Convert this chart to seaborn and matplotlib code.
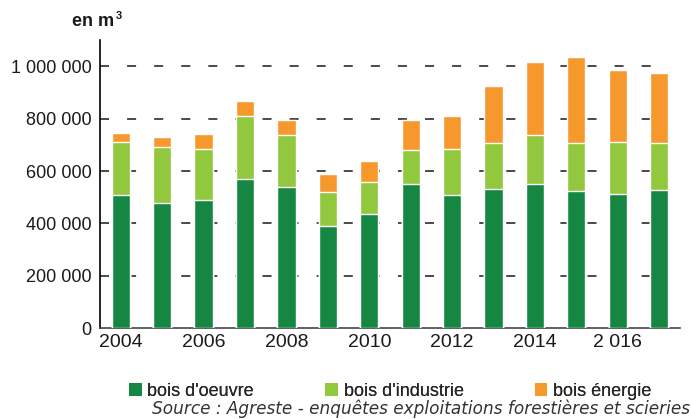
import numpy as np
import pandas as pd
import matplotlib
matplotlib.use("Agg")
import matplotlib.pyplot as plt
from matplotlib.ticker import FuncFormatter, FixedLocator
from matplotlib.patches import Patch
import seaborn as sns

# ---------------------------------------------------------------------------
# Données (m3)
# ---------------------------------------------------------------------------
annees = [2004, 2005, 2006, 2007, 2008, 2009, 2010,
          2011, 2012, 2013, 2014, 2015, 2016, 2017]
bois_oeuvre = [508000, 477000, 489000, 569000, 538000, 390000, 435000,
               550000, 508000, 531000, 550000, 523000, 511000, 527000]
bois_industrie = [203000, 213000, 194000, 241000, 198000, 130000, 125000,
                  130000, 175000, 175000, 187000, 183000, 199000, 179000]
bois_energie = [33000, 40000, 57000, 56000, 57000, 67000, 77000,
                113000, 126000, 217000, 278000, 328000, 277000, 267000]
etiquettes_x = ["2004", "2006", "2008", "2010", "2012", "2014", "2 016"]
series = ["bois d'oeuvre", "bois d'industrie", "bois énergie"]

COULEURS = ["#168742", "#92C83E", "#F7982D"]

df = pd.DataFrame({
    "annee": [str(a) for a in annees],
    "oeuvre": bois_oeuvre,
    "industrie": bois_industrie,
    "energie": bois_energie,
})
df["cum_industrie"] = df["oeuvre"] + df["industrie"]
df["cum_energie"] = df["cum_industrie"] + df["energie"]

sns.set_style("white")
plt.rcParams["font.family"] = ["Liberation Sans", "DejaVu Sans"]

fig = plt.figure(figsize=(6.91, 4.19), dpi=100)
ax = fig.add_axes([0.1447, 0.2165, 0.8393, 0.688])

# barres empilées : on trace les cumuls du plus haut au plus bas
for col, couleur in zip(["cum_energie", "cum_industrie", "oeuvre"], COULEURS[::-1]):
    sns.barplot(data=df, x="annee", y=col, color=couleur, width=0.44,
                saturation=1, ax=ax, zorder=3)

ax.set_ylim(0, 1100000)
ax.set_xlim(-0.5, len(annees) - 0.5)
ax.set_yticks(np.arange(0, 1000001, 200000))
ax.yaxis.set_major_formatter(
    FuncFormatter(lambda v, _: f"{int(v):,}".replace(",", " ")))
ax.tick_params(axis="y", labelsize=13, length=4, width=1, color="black",
               pad=2, labelcolor="#1a1a1a")

# quadrillage en tirets
for v in range(200000, 1000001, 200000):
    ax.axhline(v, xmin=0, xmax=0.98, color="#3c3c3c", lw=1.3,
               dashes=(5, 10), zorder=1)

ax.set_xticks(range(0, len(annees), 2))
ax.set_xticklabels(etiquettes_x)
ax.tick_params(axis="x", which="major", length=0, labelsize=14, pad=4,
               labelcolor="#1a1a1a")
ax.xaxis.set_minor_locator(FixedLocator(np.arange(-0.5, len(annees), 1)))
ax.tick_params(axis="x", which="minor", length=4, width=1, color="#444444")

ax.set_xlabel("")
ax.set_ylabel("")
sns.despine(ax=ax)
ax.spines["left"].set_color("black")
ax.spines["left"].set_linewidth(1.2)
ax.spines["bottom"].set_color("#444444")
ax.spines["bottom"].set_linewidth(1.2)

fig.text(0.104, 0.948, "en m", fontsize=13, fontweight="bold", ha="left",
         va="center", color="#1a1a1a")
fig.text(0.168, 0.962, "3", fontsize=8, fontweight="bold", ha="left",
         va="center", color="#1a1a1a")

# légende
poignees = [Patch(facecolor=c, edgecolor="none") for c in COULEURS]
for (x_pos, p, lab) in zip([0.187, 0.471, 0.774], poignees, series):
    leg = fig.legend([p], [lab], loc="center left",
                     bbox_to_anchor=(x_pos, 0.066), frameon=False,
                     fontsize=13, handlelength=0.7, handleheight=0.7,
                     handletextpad=0.3, borderpad=0, borderaxespad=0)
    fig.add_artist(leg)

fig.text(0.999, 0.025,
         "Source : Agreste - enquêtes exploitations forestières et scieries",
         fontsize=12.2, style="italic", ha="right", va="center",
         color="#333333", family=["DejaVu Sans"])

fig.savefig("out.png", dpi=100)
